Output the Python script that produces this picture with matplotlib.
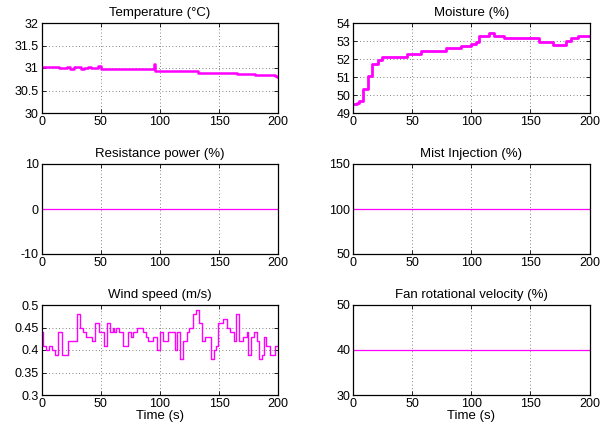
import numpy as np
import matplotlib.pyplot as plt
from matplotlib.ticker import FormatStrFormatter

plt.rcParams['font.family'] = ['Liberation Sans', 'DejaVu Sans']

# step data (start time, value)
temp_t = [0, 4, 8, 12, 15, 18, 21, 24, 27, 30, 33, 36, 39, 42, 45, 48, 50,
          60, 70, 80, 90, 95, 95.6, 110, 120, 132, 145, 165, 180, 197, 199, 200]
temp_v = [31.03, 31.02, 31.03, 31.02, 31.01, 30.99, 31.03, 30.98, 31.02, 31.03, 30.98, 31.0, 31.03,
          30.99, 31.01, 31.04, 30.98, 30.97, 30.98, 30.97, 30.98, 31.1, 30.94, 30.93, 30.94,
          30.9, 30.89, 30.86, 30.85, 30.82, 30.8, 30.8]

moist_t = [0, 3.4, 5, 8.5, 12.4, 16, 21, 24.6, 45.8, 57.7, 78.4, 91, 99.6, 104, 106.6,
           115, 119.4, 128, 157.6, 169, 180, 184.4, 190, 200]
moist_v = [49.5, 49.55, 49.65, 50.35, 51.05, 51.7, 51.95, 52.1, 52.3, 52.45, 52.6, 52.7, 52.85,
           52.95, 53.3, 53.45, 53.3, 53.15, 52.95, 52.8, 53.0, 53.15, 53.3, 53.3]

wind_t = [0, 1.5, 3.4, 6.5, 9, 11.3, 14, 16.9, 22.5, 29.6, 32.4, 34.6, 37.5, 42.3, 45, 48.2,
          53, 55.5, 57.7, 60, 61.4, 62.8, 65.6, 69, 73.2, 75.5, 77.5, 80.3, 86, 88, 90.1, 94.4,
          97.2, 100, 102.3, 107, 112.7, 114, 116.9, 119.7, 122.5, 124.5, 127.6, 130.4, 133.2,
          135.2, 138, 142.8, 145.6, 147.3, 149.3, 153.5, 156.3, 159.2, 162.5, 164.2, 166.8,
          170.4, 173.2, 174.6, 176.6, 179.4, 181.7, 183.9, 186.5, 187.9, 190.1, 193, 197.5, 200]
wind_v = [0.44, 0.41, 0.40, 0.41, 0.40, 0.39, 0.44, 0.39, 0.42, 0.48, 0.45, 0.44, 0.43, 0.42,
          0.46, 0.44, 0.41, 0.46, 0.44, 0.45, 0.44, 0.45, 0.44, 0.41, 0.44, 0.43, 0.44, 0.45,
          0.44, 0.43, 0.42, 0.43, 0.40, 0.44, 0.42, 0.44, 0.40, 0.44, 0.38, 0.42, 0.44, 0.45,
          0.48, 0.49, 0.46, 0.42, 0.43, 0.38, 0.40, 0.41, 0.46, 0.47, 0.45, 0.44, 0.42, 0.48,
          0.42, 0.43, 0.44, 0.39, 0.43, 0.44, 0.42, 0.38, 0.39, 0.43, 0.41, 0.39, 0.41, 0.41]

const_t = [0, 200]
resist_v = [0, 0]
mist_v = [100, 100]
fan_v = [40, 40]

titles = ['Temperature (°C)', 'Moisture (%)', 'Resistance power (%)',
          'Mist Injection (%)', 'Wind speed (m/s)', 'Fan rotational velocity (%)']
yticks = [[30, 30.5, 31, 31.5, 32], [49, 50, 51, 52, 53, 54], [-10, 0, 10],
          [50, 100, 150], [0.3, 0.35, 0.4, 0.45, 0.5], [30, 40, 50]]
series = [(temp_t, temp_v, 1.8), (moist_t, moist_v, 2.0), (const_t, resist_v, 0.9),
          (const_t, mist_v, 0.9), (wind_t, wind_v, 1.0), (const_t, fan_v, 0.9)]

W, H = 608, 430
lefts = [41.7, 353]
tops = [23, 164, 305]
aw, ah = 236.5, 90

fig = plt.figure(figsize=(W / 100, H / 100), dpi=100)
for i in range(6):
    r, c = divmod(i, 2)
    ax = fig.add_axes([lefts[c] / W, 1 - (tops[r] + ah) / H, aw / W, ah / H])
    t, v, lw = series[i]
    ax.plot(t, v, color='#ff00ff', lw=lw, drawstyle='steps-post')
    ax.set_xlim(0, 200)
    ax.set_ylim(yticks[i][0], yticks[i][-1])
    ax.set_xticks([0, 50, 100, 150, 200])
    ax.set_yticks(yticks[i])
    ax.yaxis.set_major_formatter(FormatStrFormatter('%g'))
    ax.grid(True, color='0.35', linestyle=(0, (1, 3)), lw=0.6)
    ax.tick_params(direction='in', length=3, width=0.6, pad=2, labelsize=9,
                   top=True, right=True)
    for s in ax.spines.values():
        s.set_linewidth(0.9)
    ax.set_title(titles[i], fontsize=9.5, pad=5)
    if r == 2:
        ax.set_xlabel('Time (s)', fontsize=9.5, labelpad=0)

fig.savefig('out.png', dpi=100)
